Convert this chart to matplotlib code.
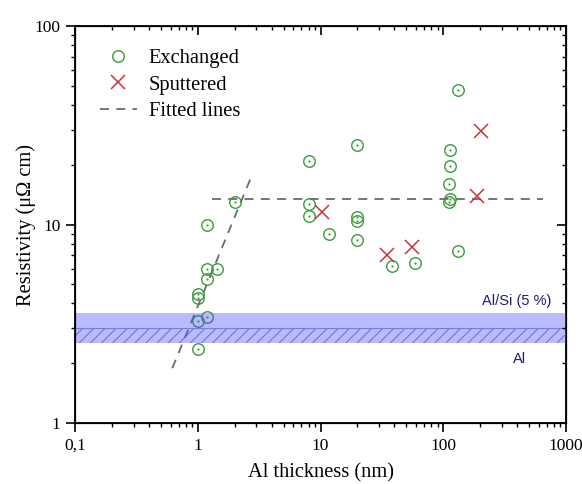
import matplotlib
matplotlib.use("Agg")
import matplotlib.pyplot as plt
import numpy as np

# Exchanged-film samples: thickness (nm), resistivity (µΩ cm)
exch_thick = [1.0, 1.0, 1.2, 1.0, 1.0, 1.2, 1.2, 1.43, 1.2, 2.0,
              8.0, 8.0, 8.0, 20.0, 20.0, 20.0, 20.0, 11.7,
              133, 113, 113, 111, 113, 111, 133, 38, 59]
exch_res = [2.36, 3.26, 3.41, 4.47, 4.25, 5.29, 5.95, 5.95, 9.9, 13.0,
            20.9, 12.7, 11.1, 25.2, 10.9, 10.45, 8.35, 8.96,
            47.6, 23.7, 19.8, 16.0, 13.4, 13.0, 7.38, 6.2, 6.37]

# Sputtered-film samples
sput_thick = [10.2, 34.6, 55.3, 187, 202]
sput_res = [11.6, 7.02, 7.73, 13.9, 29.6]

# Fitted lines (end points)
fit_steep_x = [0.62, 2.75]
fit_steep_y = [1.89, 17.6]
fit_flat_x = [1.3, 650]
fit_flat_y = [13.5, 13.5]

# Bulk reference bands (µΩ cm)
alsi_band = [3.0, 3.58]
al_band = [2.52, 3.0]

plt.rcParams['font.family'] = ['Liberation Serif', 'DejaVu Serif']
plt.rcParams['hatch.linewidth'] = 0.7

fig = plt.figure(figsize=(5.82, 4.84), dpi=100)
ax = fig.add_axes([0.1289, 0.126, 0.8436, 0.8203])

ax.set_xscale('log')
ax.set_yscale('log')
ax.set_xlim(0.1, 1000)
ax.set_ylim(1, 100)

green = '#3c9a3c'
red = '#c8323c'

ax.plot(exch_thick, exch_res, linestyle='none', marker='o', markersize=8.3,
        markerfacecolor='none', markeredgecolor=green, markeredgewidth=1.0,
        label='Exchanged', zorder=3)
ax.plot(exch_thick, exch_res, linestyle='none', marker='.', markersize=1.2,
        color=green, zorder=3)
ax.plot(sput_thick, sput_res, linestyle='none', marker='x', markersize=9.5,
        markeredgecolor=red, markeredgewidth=1.1, label='Sputtered', zorder=3)
ax.plot(fit_steep_x, fit_steep_y, linestyle=(0, (5, 4)), color='#6a6a6a',
        linewidth=1.3, label='Fitted lines', zorder=2)
ax.plot(fit_flat_x, fit_flat_y, linestyle=(0, (5, 4)), color='#6a6a6a',
        linewidth=1.3, zorder=2)

# Reference bands, drawn translucent over the data
ax.axhspan(alsi_band[0], alsi_band[1], color='#4a4aff', alpha=0.38,
           linewidth=0, zorder=4)
ax.axhspan(al_band[0], al_band[1], facecolor='#4a4aff', alpha=0.38,
           edgecolor='none', linewidth=0, zorder=4)
ax.axhspan(al_band[0], al_band[1], facecolor='none', edgecolor='#6a6ad8',
           hatch='///', linewidth=0, zorder=4)
ax.axhline(al_band[1], color='#7a7ad8', linewidth=0.8, zorder=4)

ax.text(0.90, 0.307, 'Al/Si (5 %)', transform=ax.transAxes,
        family=['Liberation Sans'], fontsize=10.5, color='#1e1e6e',
        ha='center', va='center')
ax.text(0.905, 0.161, 'Al', transform=ax.transAxes,
        family=['Liberation Sans'], fontsize=10.5, color='#1e1e6e',
        ha='center', va='center')

ax.set_xticks([0.1, 1, 10, 100, 1000])
ax.set_xticklabels(['0,1', '1', '10', '100', '1000'])
ax.set_yticks([1, 10, 100])
ax.set_yticklabels(['1', '10', '100'])
ax.tick_params(which='major', direction='out', length=6.5, width=1.2,
               labelsize=12.5, pad=4)
ax.tick_params(which='minor', direction='out', length=3, width=1.0)

for s in ax.spines.values():
    s.set_linewidth(1.3)

# Mirrored inward ticks on top and right
axt = ax.twiny()
axt.set_xscale('log')
axt.set_xlim(ax.get_xlim())
axt.set_xticks([0.1, 1, 10, 100, 1000])
axt.set_xticklabels([])
axt.tick_params(which='major', direction='in', length=6.5, width=1.2,
                labeltop=False)
axt.tick_params(which='minor', direction='in', length=3, width=1.0)
axr = ax.twinx()
axr.set_yscale('log')
axr.set_ylim(ax.get_ylim())
axr.set_yticks([1, 10, 100])
axr.set_yticklabels([])
axr.tick_params(which='major', direction='in', length=6.5, width=1.2,
                labelright=False)
axr.tick_params(which='minor', direction='in', length=3, width=1.0)

ax.set_xlabel('Al thickness (nm)', fontsize=14.7, labelpad=7)
ax.set_ylabel('Resistivity (μΩ cm)', fontsize=14.8, labelpad=-1)

ax.legend(loc='upper left', bbox_to_anchor=(0.025, 0.973), frameon=False,
          fontsize=14.8, handlelength=1.83, handletextpad=0.55,
          labelspacing=0.33, borderaxespad=0.2)

fig.savefig('out.png', dpi=100)
